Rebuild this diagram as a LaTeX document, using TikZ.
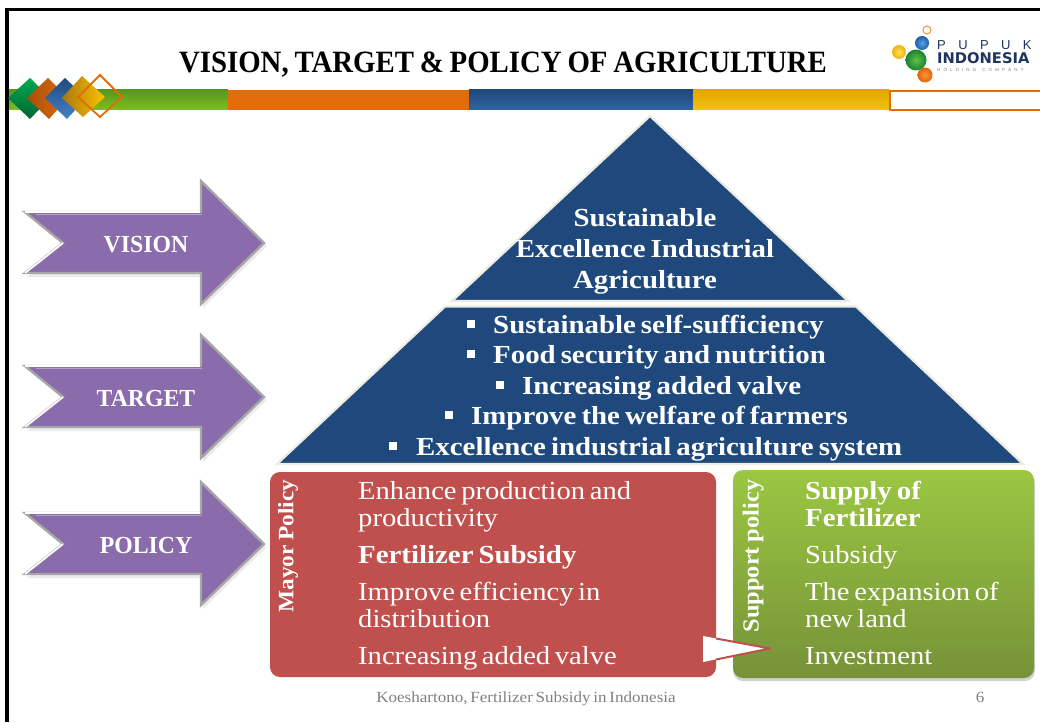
\documentclass[tikz,border=0pt]{standalone}
\usepackage{fontspec}
\setmainfont{Liberation Serif}[FakeStretch=1.10,WordSpace=0.65,BoldFeatures={FakeStretch=1.11,WordSpace=0.7}]
\newfontfamily\titlefont{Liberation Serif}[FakeStretch=0.93,WordSpace=0.8]
\newfontfamily\arrowfont{Liberation Serif}[FakeStretch=0.97]
\newfontfamily\labelfont{Liberation Serif}[FakeStretch=1.06,WordSpace=0.8]
\newfontfamily\logofont{Liberation Sans}
\newfontfamily\logobold{DejaVu Sans}
\usetikzlibrary{shadows,calc}
\definecolor{navy}{HTML}{1F497D}
\definecolor{cream}{HTML}{EEECE1}
\definecolor{brick}{HTML}{C0504D}
\definecolor{purp}{HTML}{8A6BAB}
\definecolor{barorange}{HTML}{E36C0A}
\definecolor{logonavy}{HTML}{1F3560}
\tikzset{
  x=1pt,y=-1pt,
  tx/.style={anchor=base west,inner sep=0,text=white,font=\fontsize{26}{27}\selectfont},
  txb/.style={tx,font=\fontsize{26}{27}\selectfont\bfseries},
  ctr/.style={anchor=base,inner sep=0,text=white,font=\fontsize{26}{27}\selectfont\bfseries},
  arrowlabel/.style={anchor=center,inner sep=0,text=white,font=\arrowfont\fontsize{24.5}{27}\selectfont\bfseries},
  sidelabel/.style={anchor=center,rotate=90,inner sep=0,text=white,font=\labelfont\fontsize{22}{24}\selectfont\bfseries},
  bullet/.style={fill=white,inner sep=0,minimum size=8pt},
  pic arrow/.pic={
    \path[fill=black,opacity=.08] (-119,-28) -- (57,-28) -- (57,-60) -- (121,3) -- (57,65) -- (57,34) -- (-119,34) -- (-81,3) -- cycle;
    \path[fill=purp,draw=gray!70,line width=2.4pt,line join=miter] (-121,-31) -- (55,-31) -- (55,-62) -- (118,0) -- (55,61) -- (55,30) -- (-121,30) -- (-83,0) -- cycle;
    \draw[white,line width=2.4pt] (-121,-31) -- (54,-31);
    \draw[white,line width=1.6pt] (-121,30) -- (-83,0);
    \draw[purp!65!white,line width=1pt] (-110,-29) -- (56,-29);
  }
}
\begin{document}
\begin{tikzpicture}
\useasboundingbox (0,0) rectangle (1040,722);
\fill[white] (0,0) rectangle (1040,722);
% frame
\draw[black,line width=3.5pt] (1040,9.5) -- (7,9.5) -- (7,722);
% band
\shade[top color={rgb,255:red,88;green,150;blue,30},bottom color={rgb,255:red,125;green,190;blue,35}] (9,90) rectangle (228,110);
\fill[barorange] (228,90) rectangle (469,110);
\shade[top color=navy,bottom color={rgb,255:red,48;green,100;blue,160}] (469,90) rectangle (693,110);
\shade[top color={rgb,255:red,228;green,165;blue,0},bottom color={rgb,255:red,240;green,195;blue,20}] (693,90) rectangle (889,110);
\draw[barorange,line width=2pt,fill=white] (1042,91) -- (890,91) -- (890,110.5) -- (1042,110.5);
% gems
\shade[top color={rgb,255:red,0;green,170;blue,80},bottom color={rgb,255:red,0;green,100;blue,50}] (8,98) -- (30,78) -- (50,98) -- (30,119) -- cycle;
\shade[left color={rgb,255:red,165;green,80;blue,10},right color=barorange] (27,98) -- (48,78) -- (68,98) -- (49,119) -- cycle;
\shade[top color=navy,bottom color={rgb,255:red,70;green,130;blue,200}] (45,98) -- (65,78) -- (86,98) -- (67,119) -- cycle;
\shade[left color={rgb,255:red,170;green,120;blue,15},right color={rgb,255:red,250;green,195;blue,0}] (62,98) -- (82,76) -- (105,97) -- (83,117) -- cycle;
\draw[barorange,line width=1.8pt] (78,97) -- (100,75) -- (122,97) -- (100,117) -- cycle;
% title
\node[anchor=base,inner sep=0,text=black,font=\titlefont\fontsize{31}{33}\selectfont\bfseries] (title) at (503,73) {VISION, TARGET \& POLICY OF AGRICULTURE};
% logo
\draw[orange!70!brown!80!white,line width=1.1pt,fill=white] (927,30) circle (4);
\shade[inner color={rgb,255:red,90;green,160;blue,225},outer color={rgb,255:red,30;green,95;blue,165}] (922,43) circle (7);
\shade[inner color={rgb,255:red,255;green,225;blue,80},outer color={rgb,255:red,235;green,180;blue,20}] (899,52) circle (7);
\shade[inner color={rgb,255:red,95;green,195;blue,70},outer color={rgb,255:red,25;green,130;blue,50}] (916,60) circle (10.5);
\shade[inner color={rgb,255:red,250;green,150;blue,50},outer color={rgb,255:red,225;green,100;blue,15}] (925,75) circle (7.5);
\node[anchor=base west,inner sep=0,text=logonavy,font=\logofont\fontsize{13}{13}\selectfont] (lg1) at (937,50) {P\hspace{12.4pt}U\hspace{12.4pt}P\hspace{12.4pt}U\hspace{12.4pt}K};
\node[anchor=base west,inner sep=0,text=logonavy,font=\logobold\fontsize{14.7}{15}\selectfont\bfseries] (lg2) at (937,63.5) {INDONESIA};
\node[anchor=base west,inner sep=0,text=gray,font=\logofont\fontsize{4.5}{5}\selectfont] (lg3) at (937,72) {H\hspace{3.1pt}O\hspace{3.1pt}L\hspace{3.1pt}D\hspace{3.1pt}I\hspace{3.1pt}N\hspace{3.1pt}G\hspace{6pt}C\hspace{3.1pt}O\hspace{3.1pt}M\hspace{3.1pt}P\hspace{3.1pt}A\hspace{3.1pt}N\hspace{3.1pt}Y};
% arrows
\pic at (146,243) {pic arrow};
\pic at (146,397) {pic arrow};
\pic at (146,544) {pic arrow};
\node[arrowlabel] (vision) at (146,245) {VISION};
\node[arrowlabel] (target) at (146,399) {TARGET};
\node[arrowlabel] (policy) at (146,546) {POLICY};
% pyramid
\draw[cream,line width=2.2pt,fill=navy,line join=miter] (650,116) -- (848,301) -- (452,301) -- cycle;
\draw[cream,line width=2.2pt,fill=navy,line join=miter] (445,306.5) -- (856,306.5) -- (1023,464) -- (277,464) -- cycle;
\node[ctr] (p1) at (645,226) {Sustainable};
\node[ctr] (p2) at (645,257) {Excellence Industrial};
\node[ctr] (p3) at (645,288) {Agriculture};
\node[bullet] (b1) at (471,324) {}; \node[txb] (t1) at (493,333) {Sustainable self-sufficiency};
\node[bullet] (b2) at (471,354) {}; \node[txb] (t2) at (493,363) {Food security and nutrition};
\node[bullet] (b3) at (500,385) {}; \node[txb] (t3) at (522,394) {Increasing added valve};
\node[bullet] (b4) at (449,415) {}; \node[txb] (t4) at (471,424) {Improve the welfare of farmers};
\node[bullet] (b5) at (393,446) {}; \node[txb] (t5) at (416,455) {Excellence industrial agriculture system};
% policy boxes
\fill[brick,rounded corners=10pt] (270,472) rectangle (716,677);
\fill[black,opacity=.18,rounded corners=10pt] (733,473) rectangle (1035,681);
\shade[rounded corners=10pt,top color={rgb,255:red,155;green,199;blue,66},bottom color={rgb,255:red,118;green,146;blue,56}] (733,470) rectangle (1034,678);
\node[sidelabel] (mayor) at (288,546) {Mayor Policy};
\node[sidelabel,font=\labelfont\fontsize{23}{24}\selectfont\bfseries] (support) at (753,556) {Support policy};
\node[tx] (m1) at (358,499) {Enhance production and};
\node[tx] (m2) at (358,526) {productivity};
\node[txb] (m3) at (358,563) {Fertilizer Subsidy};
\node[tx] (m4) at (358,600) {Improve efficiency in};
\node[tx] (m5) at (358,627) {distribution};
\node[tx] (m6) at (358,664) {Increasing added valve};
\node[txb] (s1) at (805,499) {Supply of};
\node[txb] (s2) at (805,526) {Fertilizer};
\node[tx] (s3) at (805,563) {Subsidy};
\node[tx] (s4) at (805,600) {The expansion of};
\node[tx] (s5) at (805,627) {new land};
\node[tx] (s6) at (805,664) {Investment};
% callout
\fill[white] (703,636) -- (770,648.5) -- (703,662) -- cycle;
\draw[brick,line width=2pt,line join=round] (716,638.5) -- (770,648.5) -- (716,659.5);
% footer
\node[anchor=base,inner sep=0,text=gray,font=\fontsize{15.5}{16}\selectfont] (foot) at (526,702) {Koeshartono, Fertilizer Subsidy in Indonesia};
\node[anchor=base,inner sep=0,text=gray,font=\fontsize{15.5}{16}\selectfont] (page) at (980,702) {6};
\end{tikzpicture}
\end{document}
